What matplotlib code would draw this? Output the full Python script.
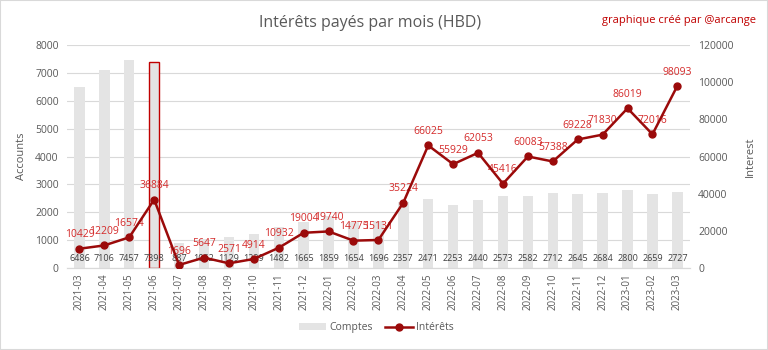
import matplotlib.pyplot as plt
import matplotlib
import numpy as np

matplotlib.rcParams['font.family'] = ['Open Sans', 'DejaVu Sans']

# données
mois = ['2021-03', '2021-04', '2021-05', '2021-06', '2021-07', '2021-08', '2021-09',
        '2021-10', '2021-11', '2021-12', '2022-01', '2022-02', '2022-03', '2022-04',
        '2022-05', '2022-06', '2022-07', '2022-08', '2022-09', '2022-10', '2022-11',
        '2022-12', '2023-01', '2023-02', '2023-03']
comptes = [6486, 7106, 7457, 7398, 887, 1052, 1129, 1229, 1482, 1665, 1859, 1654, 1696,
           2357, 2471, 2253, 2440, 2573, 2582, 2712, 2645, 2684, 2800, 2659, 2727]
interets = [10429, 12209, 16574, 36884, 1696, 5647, 2571, 4914, 10932, 19004, 19740,
            14775, 15131, 35224, 66025, 55929, 62053, 45416, 60083, 57388, 69228,
            71830, 86019, 72016, 98093]
mois_marque = '2021-06'

gris = '#595959'
rouge_ligne = '#9b0a0a'
rouge_texte = '#d42a2a'

fig = plt.figure(figsize=(7.68, 3.5), dpi=100)
ax = fig.add_axes([0.0872, 0.234, 0.811, 0.637])
ax2 = ax.twinx()

x = np.arange(len(mois))
bars = ax.bar(x, comptes, width=0.42, color='#e4e4e4', label='Comptes', zorder=2)
bars[mois.index(mois_marque)].set_edgecolor('#c00000')
bars[mois.index(mois_marque)].set_linewidth(1.0)

for i, v in enumerate(comptes):
    ax.text(i, 0.045, str(v), transform=ax.get_xaxis_transform(),
            ha='center', va='center', fontsize=6.5, color='#404040', zorder=3)

ax.set_ylim(0, 8000)
ax.set_yticks(range(0, 8001, 1000))
ax.set_xlim(-0.5, len(mois) - 0.5)
ax.set_xticks(x)
ax.set_xticklabels(mois, rotation=90, fontsize=7, color=gris)
ax.tick_params(axis='y', labelsize=7.5, colors=gris, length=0, pad=6)
ax.tick_params(axis='x', length=0, pad=4)
ax.grid(axis='y', color='#d9d9d9', linewidth=0.8, zorder=0)
ax.set_axisbelow(True)
ax.set_ylabel('Accounts', fontsize=8, color=gris, labelpad=6)

ax2.plot(x, interets, color=rouge_ligne, linewidth=1.8, marker='o', markersize=5,
         label='Intérêts', zorder=4)
for i, v in enumerate(interets):
    ax2.annotate(str(v), (i, v), xytext=(0, 6), textcoords='offset points',
                 ha='center', va='bottom', fontsize=7.5, color=rouge_texte)
ax2.set_ylim(0, 120000)
ax2.set_yticks(range(0, 120001, 20000))
ax2.tick_params(axis='y', labelsize=7.5, colors=gris, length=0, pad=6)
ax2.set_ylabel('Interest', fontsize=8, color=gris, labelpad=8)

for a in (ax, ax2):
    for s in ('top', 'left', 'right'):
        a.spines[s].set_visible(False)
    a.spines['bottom'].set_color('#d9d9d9')

fig.text(0.482, 0.935, 'Intérêts payés par mois (HBD)', ha='center', va='center',
         fontsize=11.5, color=gris)
fig.text(0.985, 0.94, 'graphique créé par @arcange', ha='right', va='center',
         fontsize=8, color='#c00000')

h1, l1 = ax.get_legend_handles_labels()
h2, l2 = ax2.get_legend_handles_labels()
fig.legend(h1 + h2, l1 + l2, loc='center', bbox_to_anchor=(0.49, 0.063), ncol=2,
           frameon=False, fontsize=7.5, labelcolor=gris, handlelength=2.6,
           columnspacing=1.2, handletextpad=0.3)

fig.patches.append(plt.Rectangle((0, 0), 1, 1, transform=fig.transFigure,
                                 fill=False, edgecolor='#d9d9d9', linewidth=1.5))
fig.savefig('out.png', dpi=100)
